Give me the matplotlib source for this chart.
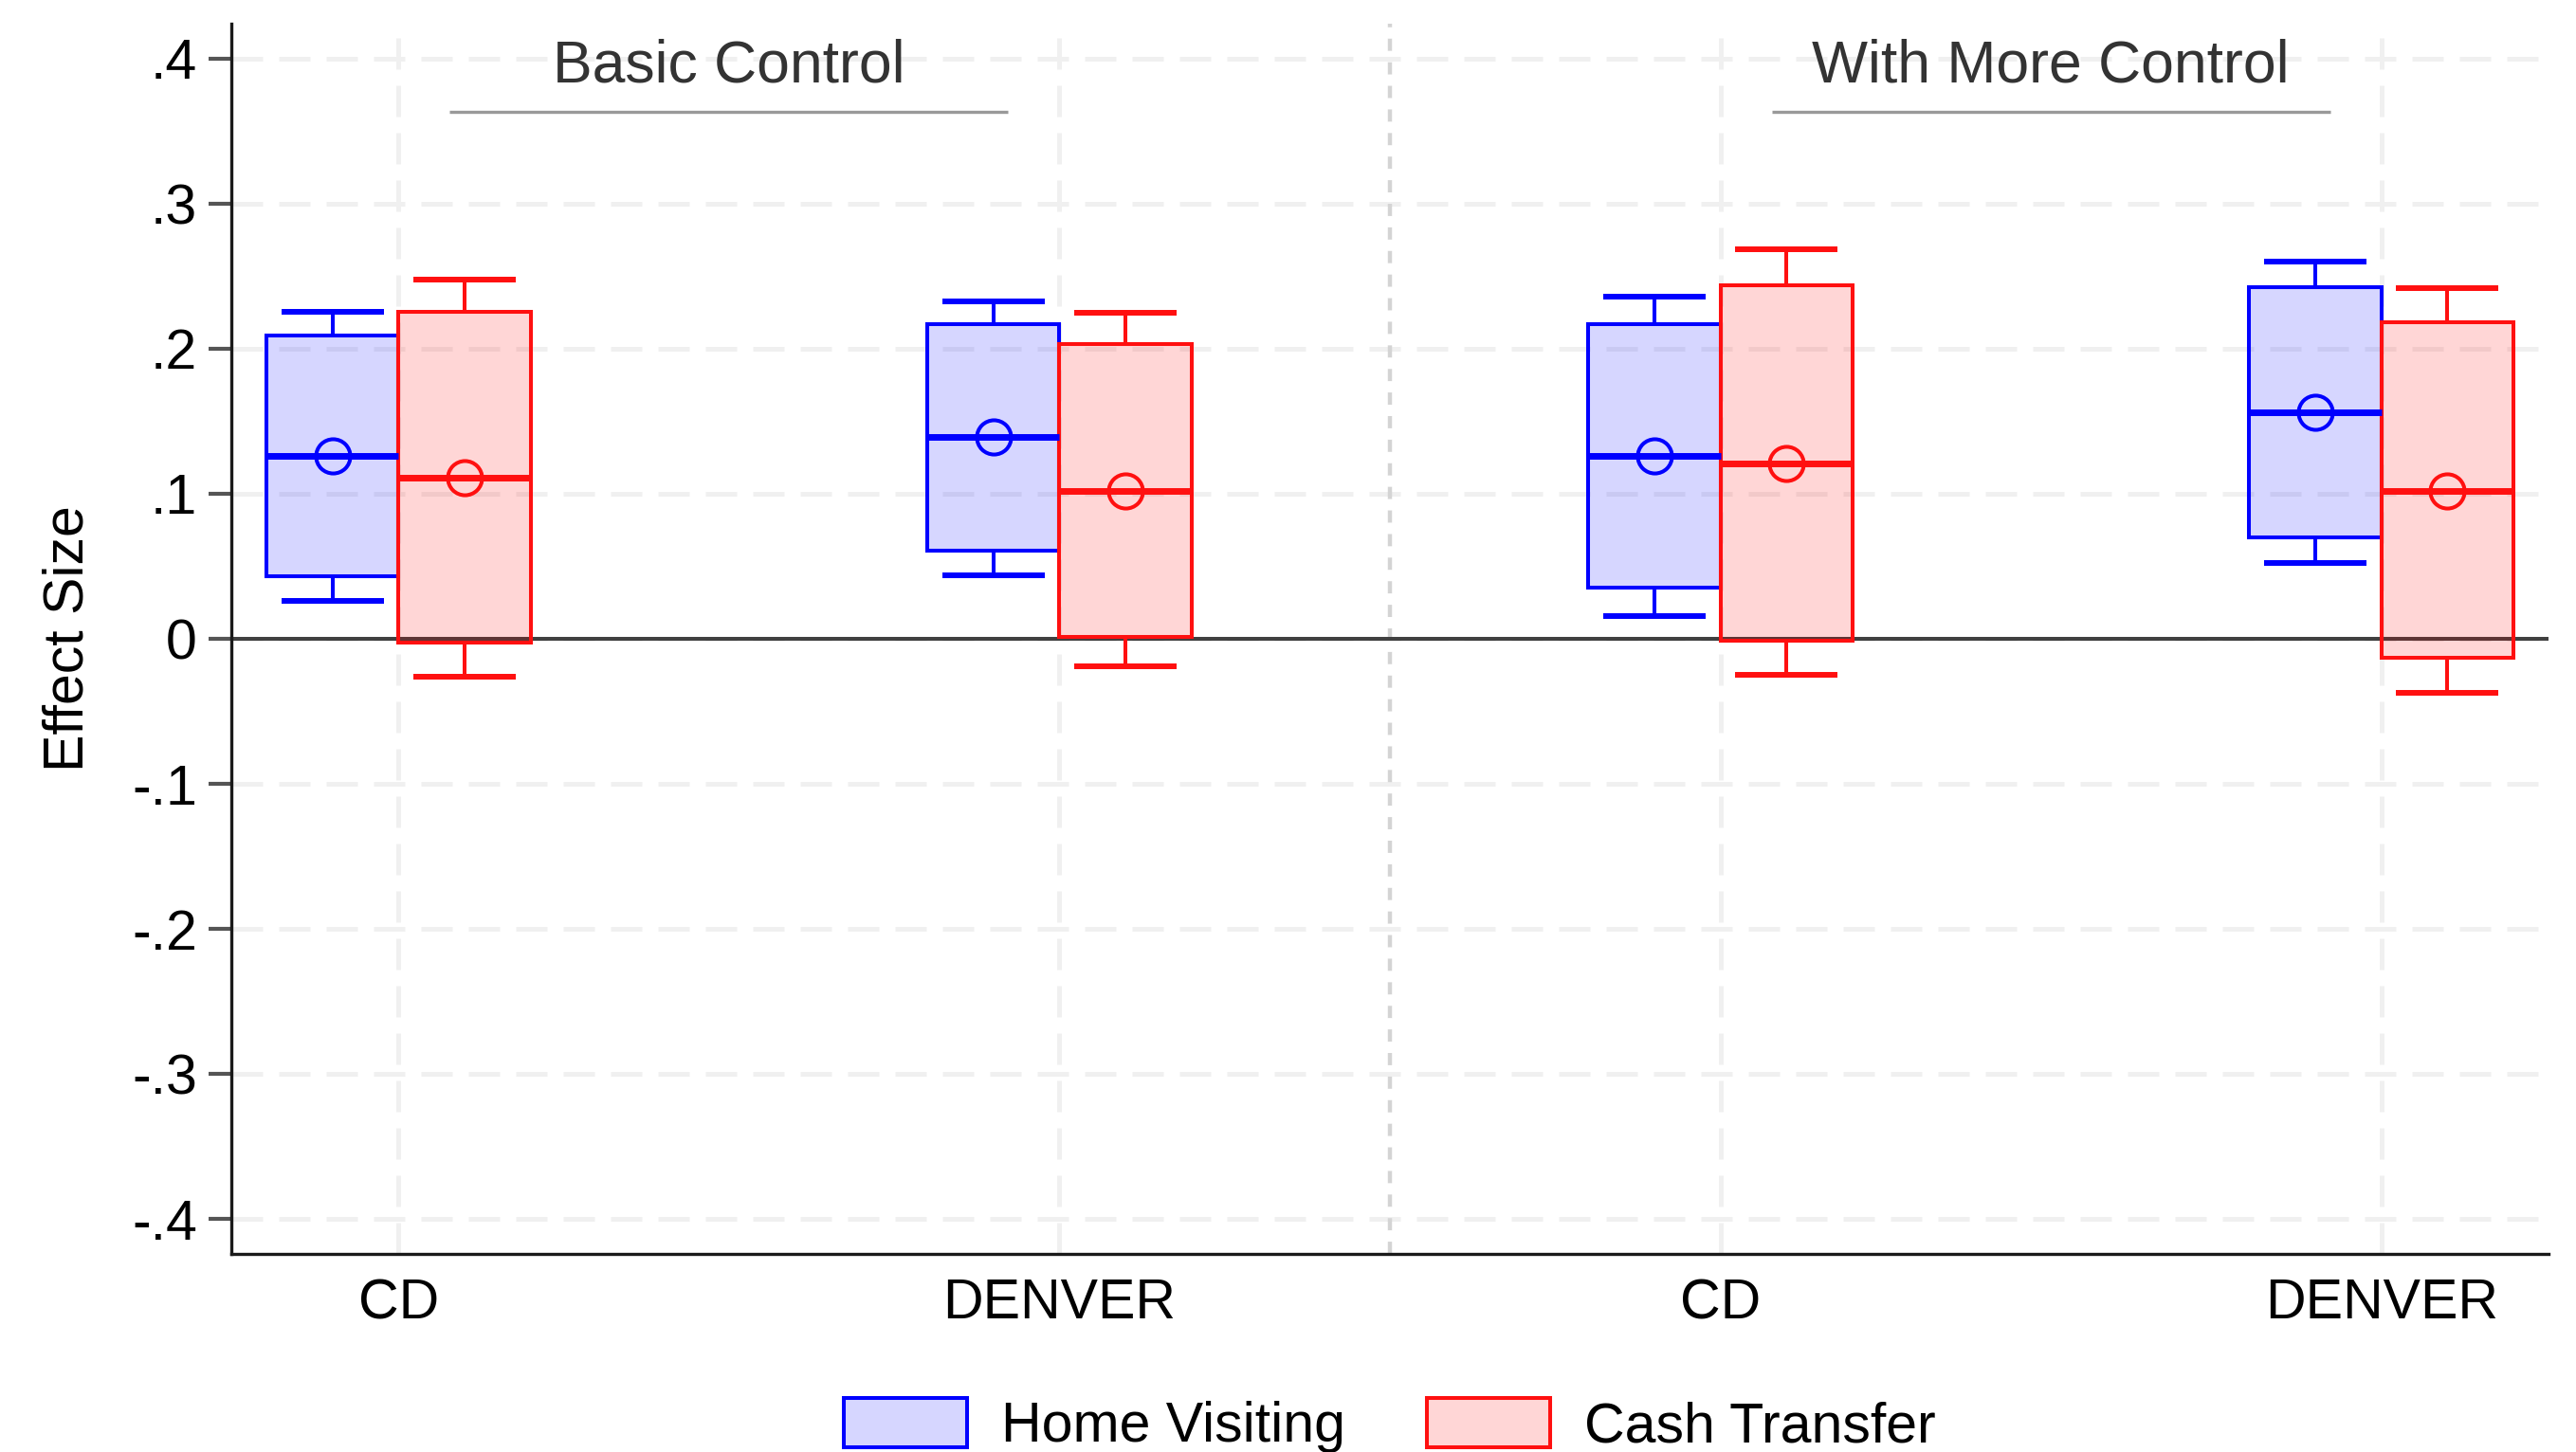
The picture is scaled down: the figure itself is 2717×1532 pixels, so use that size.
import matplotlib
matplotlib.use("Agg")
import matplotlib.pyplot as plt
from matplotlib.patches import Patch
import numpy as np

plt.rcParams['font.family'] = ['Liberation Sans', 'DejaVu Sans']

# ---- data ----
panels = ["Basic Control", "With More Control"]
sites = ["CD", "DENVER", "CD", "DENVER"]
series = ["Home Visiting", "Cash Transfer"]

hv_est    = [0.126, 0.139, 0.126, 0.156]
hv_box_lo = [0.043, 0.061, 0.035, 0.070]
hv_box_hi = [0.209, 0.217, 0.217, 0.2425]
hv_wh_lo  = [0.026, 0.044, 0.016, 0.052]
hv_wh_hi  = [0.2255, 0.2325, 0.236, 0.260]

ct_est    = [0.111, 0.102, 0.121, 0.102]
ct_box_lo = [-0.0025, 0.0015, -0.001, -0.013]
ct_box_hi = [0.2255, 0.203, 0.244, 0.218]
ct_wh_lo  = [-0.026, -0.019, -0.025, -0.037]
ct_wh_hi  = [0.2475, 0.2245, 0.2685, 0.2415]

yticks = [0.4, 0.3, 0.2, 0.1, 0.0, -0.1, -0.2, -0.3, -0.4]
ytick_labels = [".4", ".3", ".2", ".1", "0", "-.1", "-.2", "-.3", "-.4"]

# ---- styles ----
FS = 42.5
blue = '#0000ff'
red = '#ff1010'
blue_fill = (0, 0, 1, 0.16)
red_fill = (1, 0, 0, 0.16)
box_w = 0.2
cap_w = 0.155
offset = 0.1

fig = plt.figure(figsize=(27.17, 15.32), dpi=100)
ax = fig.add_axes([244/2717, 1 - 1323/1532, (2688-244)/2717, (1323-25)/1532])

x = np.arange(1, len(sites) + 1)

# grid
for yv in yticks:
    ax.axhline(yv, color='#f0f0f0', lw=3.6, dashes=(6.6, 3.4), zorder=0.5)
for xv in x:
    ax.axvline(xv, color='#f0f0f0', lw=3.6, dashes=(6.6, 3.4), zorder=0.5)
# panel separator
ax.axvline(2.5, color='#d4d4d4', lw=3.2, dashes=(2.9, 2.7), zorder=0.6)
# zero line
ax.axhline(0, color='#404040', lw=2.9, zorder=1)

def draw(xs, est, blo, bhi, wlo, whi, col, fill):
    blo = np.array(blo); bhi = np.array(bhi)
    ax.bar(xs, bhi - blo, bottom=blo, width=box_w, facecolor=fill,
           edgecolor=col, linewidth=2.9, zorder=2)
    ax.vlines(xs, bhi, whi, color=col, lw=2.9, zorder=2)
    ax.vlines(xs, wlo, blo, color=col, lw=2.9, zorder=2)
    ax.hlines(whi, xs - cap_w/2, xs + cap_w/2, color=col, lw=4.3, zorder=2)
    ax.hlines(wlo, xs - cap_w/2, xs + cap_w/2, color=col, lw=4.3, zorder=2)
    ax.hlines(est, xs - box_w/2, xs + box_w/2, color=col, lw=5, zorder=3)
    ax.plot(xs, est, linestyle='none', marker='o', markersize=26,
            markerfacecolor='none', markeredgecolor=col, markeredgewidth=2.9,
            zorder=4)

draw(x - offset, hv_est, hv_box_lo, hv_box_hi, hv_wh_lo, hv_wh_hi, blue, blue_fill)
draw(x + offset, ct_est, ct_box_lo, ct_box_hi, ct_wh_lo, ct_wh_hi, red, red_fill)

# panel titles
for i, name in enumerate(panels):
    cx = 1.5 + 2 * i
    ax.text(cx, 0.3835, name, ha='center', va='baseline', fontsize=45,
            color='#333333', zorder=5)
    ax.hlines(0.3635, cx - 0.4225, cx + 0.4225, color='#999999', lw=2.4, zorder=5)

ax.set_xlim(0.747, 4.253)
ax.set_ylim(-0.424, 0.424)
ax.set_xticks(x)
ax.set_xticklabels(sites, fontsize=FS)
ax.set_yticks(yticks)
ax.set_yticklabels(ytick_labels, fontsize=FS)
ax.tick_params(axis='x', length=0, pad=18, colors='black')
ax.tick_params(axis='y', length=17, width=3, color='#555555', pad=9, labelcolor='black')

for s in ['top', 'right']:
    ax.spines[s].set_visible(False)
for s in ['left', 'bottom']:
    ax.spines[s].set_linewidth(2.4)
    ax.spines[s].set_color('#1a1a1a')

fig.text(88/2717, 1 - 674/1532, "Effect Size", rotation=90, rotation_mode='anchor',
         ha='center', va='baseline', fontsize=FS)

handles = [Patch(facecolor=blue_fill, edgecolor=blue, linewidth=2.9, label=series[0]),
           Patch(facecolor=red_fill, edgecolor=red, linewidth=2.9, label=series[1])]
fig.legend(handles=handles, loc='center', bbox_to_anchor=(1466/2717, 1 - 1504/1532),
           ncol=2, frameon=False, fontsize=FS, handlelength=2.2, handleheight=0.97,
           handletextpad=0.62, columnspacing=1.45)

fig.savefig("out.png", dpi=100)
